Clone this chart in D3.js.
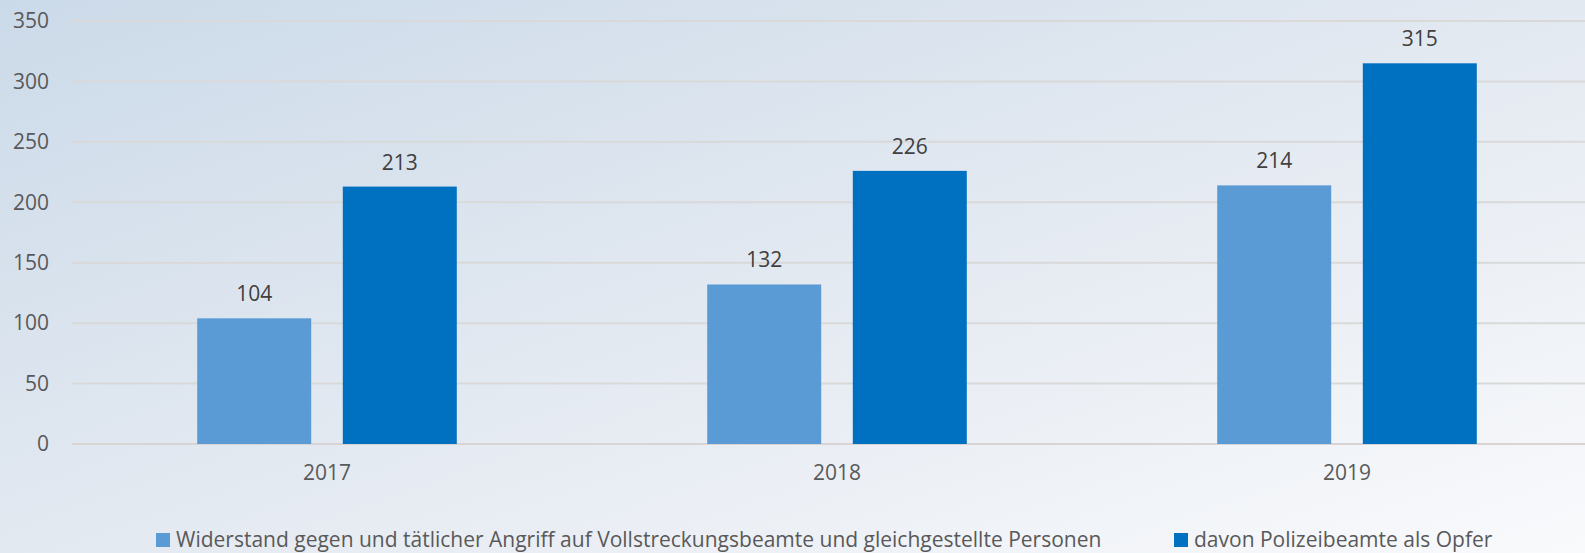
<!DOCTYPE html>
<html>
<head>
<meta charset="utf-8">
<script src="https://cdn.jsdelivr.net/npm/d3@7"></script>
<style>
  html, body { margin: 0; padding: 0; }
  body { width: 1585px; height: 553px; overflow: hidden; }
  svg text { font-family: "Open Sans", "Noto Sans", sans-serif; }
</style>
</head>
<body>
<div id="chart"></div>
<script>
(function () {
	'use strict';

	var categories = ["2017", "2018", "2019"];
	var seriesNames = [
		"Widerstand gegen und tätlicher Angriff auf Vollstreckungsbeamte und gleichgestellte Personen",
		"davon Polizeibeamte als Opfer"
	];
	var widerstand = [104, 132, 214];
	var polizei = [213, 226, 315];
	var yTicks = [0, 50, 100, 150, 200, 250, 300, 350];
	var colors = ["#5b9bd5", "#0070c0"];

	var width = 1585, height = 553;
	var margin = { left: 72, right: -17, top: 21, bottom: 109 };

	var svg = d3.select("#chart")
		.append("svg")
		.attr("width", width)
		.attr("height", height);

	// background gradient
	var grad = svg.append("defs").append("linearGradient")
		.attr("id", "bg")
		.attr("x1", "0%").attr("y1", "0%")
		.attr("x2", "100%").attr("y2", "100%");
	grad.append("stop").attr("offset", "0%").attr("stop-color", "#cbdae9");
	grad.append("stop").attr("offset", "50%").attr("stop-color", "#e3e9f1");
	grad.append("stop").attr("offset", "100%").attr("stop-color", "#f9fafc");
	svg.append("rect")
		.attr("width", width).attr("height", height)
		.attr("fill", "url(#bg)");

	var x0 = d3.scaleBand()
		.domain(categories)
		.range([margin.left, width - margin.right]);

	var x1 = d3.scaleBand()
		.domain([0, 1])
		.range([0, x0.bandwidth()])
		.paddingInner(0.217)
		.paddingOuter(0.86);

	var y = d3.scaleLinear()
		.domain([0, 350])
		.range([height - margin.bottom, margin.top]);

	// gridlines
	svg.append("g")
		.selectAll("line")
		.data(yTicks)
		.enter()
		.append("line")
		.attr("x1", margin.left)
		.attr("x2", width)
		.attr("y1", function(d){ return y(d); })
		.attr("y2", function(d){ return y(d); })
		.attr("stroke", function(d){ return d === 0 ? "#d9d4d4" : "#d9d9d9"; })
		.attr("stroke-width", 2);

	// y axis labels
	var yAxis = d3.axisLeft(y).tickValues(yTicks).tickSize(0).tickPadding(0);
	var gy = svg.append("g")
		.attr("transform", "translate(49,0)")
		.call(yAxis);
	gy.select(".domain").remove();
	gy.selectAll("text")
		.attr("fill", "#595959")
		.style("font-size", "21px")
		.style("font-family", "'Open Sans', sans-serif");

	// x axis labels
	var xAxis = d3.axisBottom(x0).tickSize(0).tickPadding(0);
	var gx = svg.append("g")
		.attr("transform", "translate(0," + (y(0) + 21) + ")")
		.call(xAxis);
	gx.select(".domain").remove();
	gx.selectAll("text")
		.attr("fill", "#595959")
		.style("font-size", "21px")
		.style("font-family", "'Open Sans', sans-serif");

	var rows = categories.map(function(c, i){
		return { cat: c, values: [widerstand[i], polizei[i]] };
	});

	var groups = svg.append("g")
		.selectAll("g")
		.data(rows)
		.enter()
		.append("g")
		.attr("transform", function(d){ return "translate(" + x0(d.cat) + ",0)"; });

	groups.selectAll("rect")
		.data(function(d){ return d.values.map(function(v, j){ return { s: j, v: v }; }); })
		.enter()
		.append("rect")
		.attr("x", function(d){ return x1(d.s); })
		.attr("width", x1.bandwidth())
		.attr("y", function(d){ return y(d.v); })
		.attr("height", function(d){ return y(0) - y(d.v); })
		.attr("fill", function(d){ return colors[d.s]; });

	groups.selectAll("text.val")
		.data(function(d){ return d.values.map(function(v, j){ return { s: j, v: v }; }); })
		.enter()
		.append("text")
		.attr("class", "val")
		.attr("x", function(d){ return x1(d.s) + x1.bandwidth() / 2; })
		.attr("y", function(d){ return y(d.v) - 17; })
		.attr("text-anchor", "middle")
		.attr("fill", "#404040")
		.style("font-size", "21px")
		.text(function(d){ return d.v; });

	// legend
	var legendX = [156, 1174];
	var legend = svg.append("g")
		.selectAll("g")
		.data(seriesNames)
		.enter()
		.append("g")
		.attr("transform", function(d, i){ return "translate(" + legendX[i] + ",533)"; });
	legend.append("rect")
		.attr("width", 14)
		.attr("height", 14)
		.attr("fill", function(d, i){ return colors[i]; });
	legend.append("text")
		.attr("x", 20)
		.attr("y", 14)
		.attr("fill", "#595959")
		.style("font-size", "21px")
		.text(function(d){ return d; });
}());
</script>
</body>
</html>
